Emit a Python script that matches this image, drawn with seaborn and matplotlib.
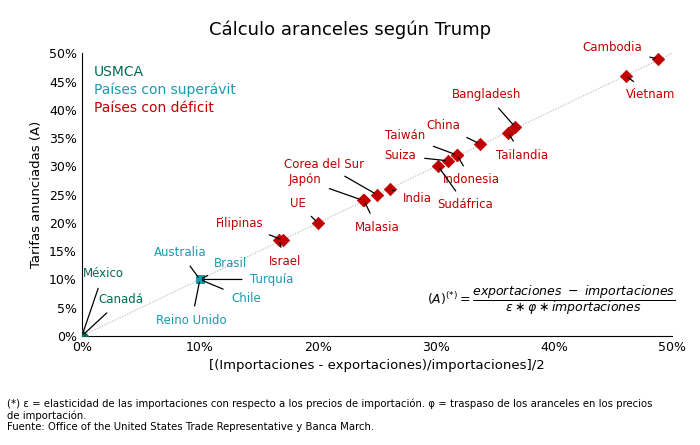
import matplotlib
matplotlib.use("Agg")
import matplotlib.pyplot as plt
import seaborn as sns
import pandas as pd
from matplotlib.ticker import PercentFormatter

countries = ["Cambodia","Vietnam","Bangladesh","Tailandia","China","Taiwán","Indonesia","Suiza","Sudáfrica",
             "India","Corea del Sur","Japón","Malasia","UE","Filipinas","Israel",
             "Australia","Brasil","Turquía","Chile","Reino Unido","México","Canadá"]
x_vals = [48.8,46.1,36.7,36.1,33.7,31.8,31.8,31.0,30.2,26.1,25.0,23.8,23.9,20.0,17.0,16.7,10,10,10,10,10,0,0]
y_vals = [49,46,37,36,34,32,32,31,30,26,25,24,24,20,17,17,10,10,10,10,10,0,0]
groups = ["Países con déficit"]*16 + ["Países con superávit"]*5 + ["USMCA"]*2
label_pos = {"Cambodia":(44.9,51),"Vietnam":(48.2,42.8),"Bangladesh":(34.3,42.7),"Tailandia":(37.3,32),
 "China":(30.6,37.2),"Taiwán":(27.4,35.4),"Indonesia":(33,27.6),"Suiza":(27,31.9),"Sudáfrica":(32.5,23.2),
 "India":(28.4,24.3),"Corea del Sur":(20.5,30.4),"Japón":(18.9,27.6),"Malasia":(25,19.2),"UE":(18.3,23.5),
 "Filipinas":(13.4,19.9),"Israel":(17.2,13.1),"Australia":(8.3,14.8),"Brasil":(12.6,12.8),"Turquía":(16.1,10),
 "Chile":(13.9,6.6),"Reino Unido":(9.3,2.7),"México":(1.8,11),"Canadá":(3.3,6.4)}

df = pd.DataFrame({"x":x_vals,"y":y_vals,"g":groups,"c":countries})
colors = {"USMCA":"#006B54","Países con superávit":"#1A9BB0","Países con déficit":"#C00000"}

fig, ax = plt.subplots(figsize=(7,4.45), dpi=100)
fig.subplots_adjust(left=0.117, right=0.96, top=0.88, bottom=0.245)
ax.plot([0,50],[0,50], color="#cccccc", lw=1, ls=(0,(1,1)), zorder=1)
markers = {"USMCA":"D","Países con superávit":"s","Países con déficit":"D"}
for g in colors:
    sub = df[df.g==g]
    sns.scatterplot(data=sub, x="x", y="y", color=colors[g], marker=markers[g], s=40, ax=ax, zorder=3, edgecolor=colors[g])
for _, r in df.iterrows():
    lx, ly = label_pos[r.c]
    ax.annotate(r.c, xy=(r.x, r.y), xytext=(lx, ly), fontsize=8.5, color=colors[r.g],
                ha="center", va="center", arrowprops=dict(arrowstyle="-", color="black", lw=0.9, shrinkA=4, shrinkB=2))
ax.set_xlim(0,50); ax.set_ylim(0,50)
ax.set_xticks(range(0,51,10)); ax.set_yticks(range(0,51,5))
ax.xaxis.set_major_formatter(PercentFormatter(decimals=0))
ax.yaxis.set_major_formatter(PercentFormatter(decimals=0))
for s in ["top","right"]: ax.spines[s].set_visible(False)
ax.tick_params(labelsize=9, length=0)
ax.set_xlabel("[(Importaciones - exportaciones)/importaciones]/2", fontsize=9.5)
ax.set_ylabel("Tarifas anunciadas (A)", fontsize=9.5)
fig.suptitle("Cálculo aranceles según Trump", fontsize=13, y=0.955)
ax.text(1,46,"USMCA", color=colors["USMCA"], fontsize=10)
ax.text(1,42.8,"Países con superávit", color=colors["Países con superávit"], fontsize=10)
ax.text(1,39.6,"Países con déficit", color=colors["Países con déficit"], fontsize=10)
ax.text(39.8,6.3,r"$(A)^{(*)} = \dfrac{exportaciones\ -\ importaciones}{\varepsilon\ast\varphi\ast importaciones}$",
        fontsize=9, ha="center", va="center", family="serif")
fig.text(0.01,0.105,"(*) ε = elasticidad de las importaciones con respecto a los precios de importación. φ = traspaso de los aranceles en los precios\nde importación.\nFuente: Office of the United States Trade Representative y Banca March.",
         fontsize=7.3, va="top", linespacing=1.15)
fig.savefig("out.png", dpi=100)
